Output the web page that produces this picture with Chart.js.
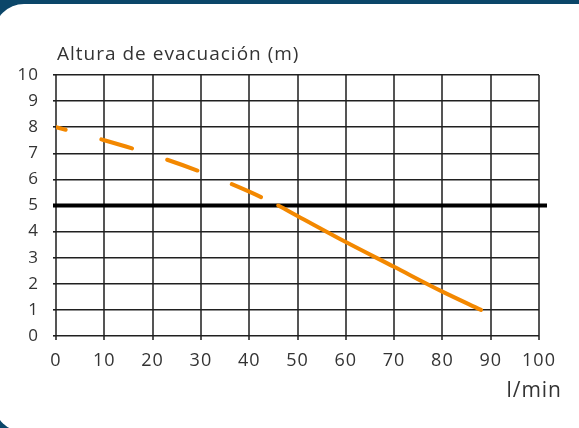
<!DOCTYPE html>
<html>
<head>
<meta charset="utf-8">
<script src="https://cdn.jsdelivr.net/npm/chart.js@4.4.1/dist/chart.umd.min.js"></script>
<style>
  html, body { margin: 0; padding: 0; width: 579px; height: 428px; overflow: hidden; background: #0b4669; }
  .panel { position: absolute; left: -6px; top: 4px; width: 640px; height: 428px; background: #ffffff; border-radius: 30px; }
  .wrap { position: absolute; left: 0; top: 0; width: 579px; height: 428px; }
</style>
</head>
<body>
<div class="panel"></div>
<div class="wrap"><canvas id="chart" width="579" height="428"></canvas></div>
<script>
// Pump curve: delivery head (m) against flow (l/min)
const flowLpm = [0, 10, 20, 30, 40, 46, 50, 60, 70, 80, 88];
const headM   = [8.0, 7.5, 6.94, 6.29, 5.53, 5.0, 4.6, 3.6, 2.65, 1.7, 1.0];
const xTickValues = [0, 10, 20, 30, 40, 50, 60, 70, 80, 90, 100];
const yTickValues = [0, 1, 2, 3, 4, 5, 6, 7, 8, 9, 10];
const limitHeadM = 5;          // horizontal reference line
const dashedUpToFlow = 46;     // curve drawn dashed below this flow
const yTitle = 'Altura de evacuación (m)';
const xTitle = 'l/min';

const FONT = '"Open Sans", "Noto Sans", sans-serif';
const TEXT = '#333333';

const spacing = {
  id: 'spacing',
  beforeDraw(chart) { chart.ctx.letterSpacing = '1px'; }
};

const limitLine = {
  id: 'limitLine',
  beforeDatasetsDraw(chart) {
    const { ctx, chartArea, scales } = chart;
    const y = scales.y.getPixelForValue(limitHeadM);
    ctx.save();
    ctx.strokeStyle = '#000000';
    ctx.lineWidth = 4;
    ctx.beginPath();
    ctx.moveTo(chartArea.left - 3, y);
    ctx.lineTo(chartArea.right + 8, y);
    ctx.stroke();
    ctx.restore();
  }
};

const axisTitles = {
  id: 'axisTitles',
  afterDraw(chart) {
    const { ctx, chartArea } = chart;
    ctx.save();
    ctx.fillStyle = TEXT;
    ctx.textBaseline = 'alphabetic';
    ctx.font = '19px ' + FONT;
    ctx.textAlign = 'left';
    ctx.fillText(yTitle, chartArea.left + 1, 60);
    ctx.font = '21px ' + FONT;
    ctx.textAlign = 'right';
    ctx.fillText(xTitle, chartArea.right + 23, 397);
    ctx.restore();
  }
};

new Chart(document.getElementById('chart'), {
  type: 'line',
  data: {
    datasets: [{
      data: flowLpm.map((f, i) => ({ x: f, y: headM[i] })),
      borderColor: '#f38800',
      borderWidth: 4,
      borderCapStyle: 'round',
      borderDashOffset: 22,
      pointRadius: 0,
      cubicInterpolationMode: 'monotone',
      segment: {
        borderDash: ctx => ctx.p1.parsed.x <= dashedUpToFlow ? [32, 37] : undefined
      }
    }]
  },
  options: {
    responsive: false,
    devicePixelRatio: 1,
    animation: false,
    layout: { padding: { left: 0, top: 75, right: 40, bottom: 0 } },
    plugins: { legend: { display: false }, tooltip: { enabled: false }, title: { display: false } },
    scales: {
      x: {
        type: 'linear', min: 0, max: 100,
        afterBuildTicks: s => { s.ticks = xTickValues.map(v => ({ value: v })); },
        afterFit: s => { s.height = 92; },
        ticks: { color: TEXT, font: { family: FONT, size: 18 }, padding: 10, maxRotation: 0, autoSkip: false },
        grid: { color: '#555555', lineWidth: 2, tickLength: 4 },
        border: { display: false }
      },
      y: {
        type: 'linear', min: 0, max: 10,
        afterBuildTicks: s => { s.ticks = yTickValues.map(v => ({ value: v })); },
        afterFit: s => { s.width = 56; },
        ticks: { color: TEXT, font: { family: FONT, size: 17 }, padding: 14, autoSkip: false },
        grid: { color: '#202020', lineWidth: 1.6, tickLength: 3 },
        border: { display: false }
      }
    }
  },
  plugins: [spacing, limitLine, axisTitles]
});
</script>
</body>
</html>
